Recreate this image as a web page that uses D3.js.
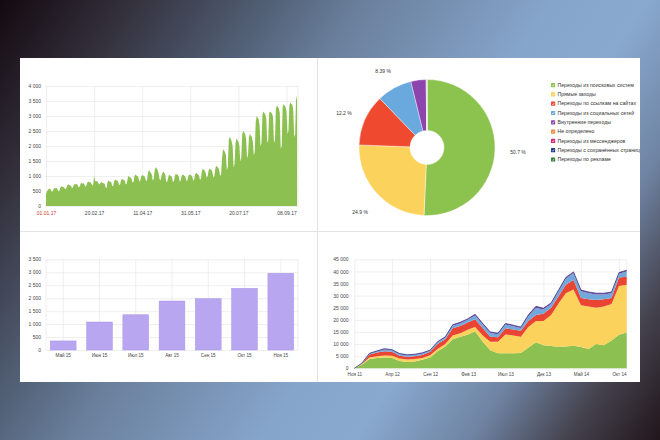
<!DOCTYPE html>
<html><head><meta charset="utf-8">
<script src="https://cdn.jsdelivr.net/npm/d3@7"></script>
<style>
html,body{margin:0;padding:0;background:#333;}
svg{display:block;font-family:"Liberation Sans",Arial,sans-serif;}
</style></head>
<body>
<svg id="c" width="660" height="440"></svg>
<script>
// ---------- DATA ----------
// Chart 1: daily visits from 01.01.17 (Sunday)
const dailyVisits = [400,
 480,540,560,580,550,470,500,
 570,600,590,600,560,480,520,
 620,650,640,630,610,560,580,
 680,720,700,690,660,600,620,
 700,740,720,730,690,620,650,
 740,770,750,760,720,640,680,
 780,820,790,800,760,680,720,
 1000,850,820,830,790,720,740,
 780,800,770,760,740,620,600,
 800,850,820,810,780,650,680,
 840,880,860,850,820,700,720,
 860,900,880,870,840,720,750,
 940,1000,960,950,900,780,800,
 1000,1050,1020,1000,960,820,850,
 990,1030,1010,1000,950,830,860,
 1100,1200,1150,1100,1050,850,900,
 1200,1300,1250,1200,1100,900,850,
 1000,1100,1150,1100,1050,800,820,
 950,1050,1020,1000,960,800,830,
 1000,1080,1050,1030,980,820,850,
 990,1050,1030,1010,970,830,860,
 1000,1050,1040,1020,980,850,870,
 1050,1100,1080,1060,1020,880,900,
 1150,1250,1200,1180,1100,950,980,
 1180,1250,1220,1200,1120,950,990,
 1250,1350,1300,1280,1200,1000,1050,
 1600,1900,1850,1800,1700,1200,1300,
 2200,2300,2250,2150,2000,1300,1400,
 2100,2250,2200,2150,2000,1500,1600,
 2400,2500,2450,2400,2250,1600,1700,
 2300,2400,2350,2300,2150,1700,1800,
 2800,3000,2950,2900,2700,2000,2100,
 3050,3150,3100,3050,2900,2100,2200,
 3100,3150,3120,3080,2950,2100,2200,
 3250,3350,3300,3250,3100,1900,2000,
 3300,3400,3350,3300,3150,2400,2500,
 3350,3450,3400,3380,3200,2300,2400,
 3700,3500];
const dailyTickLabels = ["01.01.17","20.02.17","11.04.17","31.05.17","20.07.17","08.09.17"];
const dailyYTicks = [0,500,1000,1500,2000,2500,3000,3500,4000];

// Chart 2: traffic sources (pie)
const sourceNames = ["Переходы из поисковых систем","Прямые заходы","Переходы по ссылкам на сайтах","Переходы из социальных сетей","Внутренние переходы","Не определено","Переходы из мессенджеров","Переходы с сохранённых страниц","Переходы по рекламе"];
const sourceShares = [50.7, 24.9, 12.2, 8.39, 3.6, 0.1, 0.05, 0.03, 0.03];
const sourceLabels = ["50.7 %","24.9 %","12.2 %","8.39 %","","","","",""];
const sourceColors = ["#8cc34f","#fbd25c","#ef4a2f","#6aa9de","#8e44ad","#e8883a","#d9247a","#1f3a8a","#2f7d32"];

// Chart 3: monthly bars
const barMonths = ["Май 15","Июн 15","Июл 15","Авг 15","Сен 15","Окт 15","Ноя 15"];
const barValues = [350, 1080, 1360, 1890, 1980, 2380, 2960];
const barYTicks = [0,500,1000,1500,2000,2500,3000,3500];

// Chart 4: stacked monthly sources from Nov 2011
const stackSearch   = [0,1500,3800,4300,4500,4300,3000,2600,2800,3500,4500,7000,9000,12000,13000,14000,15300,11000,7500,6200,6200,6200,6300,8500,10800,9500,9200,8800,9000,9300,8800,8000,10000,9500,11500,13800,14800];
const stackDirect   = [0,200,700,700,800,900,1000,1000,1000,800,900,1000,1000,1500,1500,2000,1700,2500,3500,4800,7800,7300,6700,8500,8700,10000,12800,18200,22000,23200,17200,17500,15000,16000,15000,20200,19700];
const stackLinks    = [0,200,1200,1500,1700,1600,1200,1200,1200,1200,1400,2000,2000,3000,3000,3000,3300,3000,2000,1800,2500,2500,2500,2500,2500,3000,3000,3000,3500,4000,3000,3000,3200,3000,2500,3500,3300];
const stackSocial   = [0,150,350,500,800,650,650,600,600,650,500,750,750,1100,1100,1100,1500,1500,1600,1300,1600,1400,1100,2000,2900,1800,1500,2000,2500,2800,2800,2500,2300,2000,2000,1500,2200];
const stackInternal = [0,50,150,200,300,250,250,200,200,250,200,250,250,400,400,400,500,500,400,400,400,400,400,500,700,500,500,500,500,500,500,500,500,500,500,500,500];
const stackTickLabels = ["Ноя 11","Апр 12","Сен 12","Фев 13","Июл 13","Дек 13","Май 14","Окт 14"];
const stackYTicks = [0,5000,10000,15000,20000,25000,30000,35000,40000,45000];

// ---------- DRAW ----------
const svg = d3.select("#c");
const defs = svg.append("defs");
const bg = defs.append("linearGradient").attr("id","bg")
  .attr("gradientUnits","userSpaceOnUse").attr("x1",0).attr("y1",0).attr("x2",660).attr("y2",440);
[[0,"#140910"],[0.14,"#34313d"],[0.3,"#55657c"],[0.38,"#6a7f9c"],[0.58,"#86a5cb"],[0.68,"#89a9cf"],[0.8,"#6f84a3"],[0.9,"#45434f"],[1,"#21151a"]]
  .forEach(s=>bg.append("stop").attr("offset",s[0]).attr("stop-color",s[1]));
svg.append("rect").attr("width",660).attr("height",440).attr("fill","url(#bg)");

svg.append("rect").attr("x",20).attr("y",58).attr("width",620).attr("height",324).attr("fill","#ffffff");
svg.append("line").attr("x1",317.5).attr("x2",317.5).attr("y1",58).attr("y2",382).attr("stroke","#e3e3e3");
svg.append("line").attr("x1",20).attr("x2",640).attr("y1",231.5).attr("y2",231.5).attr("stroke","#e3e3e3");

const fmt = v => d3.format(",")(v).replace(/,/g," ");
const grid = "#e8e8e8", tickCol = "#444", fs = 5;

function yAxisGrid(g, y, ticks, x0, x1, labelX){
  const ax = g.append("g").attr("transform",`translate(${x0},0)`)
    .call(d3.axisLeft(y).tickValues(ticks).tickSize(-(x1-x0)).tickPadding(x0-labelX).tickFormat(fmt));
  ax.select(".domain").remove();
  ax.selectAll("line").attr("stroke",grid).attr("stroke-width",0.7);
  ax.selectAll("text").attr("font-size",fs).attr("fill",tickCol).attr("font-family","Liberation Sans, Arial, sans-serif");
}

// Chart 1
{
  const start = new Date(2017,0,1);
  const x = d3.scaleTime().domain([start, new Date(2017,8,8)]).range([46,286.5]);
  const y = d3.scaleLinear().domain([0,4000]).range([206,86]);
  const g = svg.append("g");
  const tickDates = dailyTickLabels.map(s=>{const p=s.split(".");return new Date(2000+ +p[2], +p[1]-1, +p[0]);});
  yAxisGrid(g, y, dailyYTicks, 45.5, 298, 41);
  const xa = g.append("g").attr("transform","translate(0,206)")
    .call(d3.axisBottom(x).tickValues(tickDates).tickSize(-120).tickPadding(5).tickFormat((d,i)=>dailyTickLabels[i]));
  xa.select(".domain").remove();
  xa.selectAll("line").attr("stroke",grid).attr("stroke-width",0.7);
  xa.selectAll("text").attr("font-size",fs).attr("fill",(d,i)=>i===0?"#d0342c":tickCol).attr("font-family","Liberation Sans, Arial, sans-serif");
  g.append("line").attr("x1",298).attr("x2",298).attr("y1",86).attr("y2",206).attr("stroke",grid).attr("stroke-width",0.7);
  const area = d3.area().x((d,i)=>x(d3.timeDay.offset(start,i))).y0(y(0)).y1(d=>y(d));
  g.append("path").datum(dailyVisits).attr("d",area).attr("fill","#8cc152");
}

// Chart 2: pie
{
  const cx = 427, cy = 147.5;
  const g = svg.append("g").attr("transform",`translate(${cx},${cy})`);
  const pie = d3.pie().sort(null).value(d=>d);
  const arcs = pie(sourceShares);
  const arc = d3.arc().innerRadius(17).outerRadius(68);
  g.selectAll("path.s").data(arcs).join("path").attr("class","s")
    .attr("d",arc).attr("fill",(d,i)=>sourceColors[i]).attr("stroke","#ffffff").attr("stroke-width",0.4);
  const la = d3.arc().innerRadius(91).outerRadius(91);
  g.selectAll("text.l").data(arcs).join("text").attr("class","l")
    .attr("transform",d=>{const c=la.centroid(d);return `translate(${c[0]},${c[1]+3})`;})
    .attr("text-anchor","middle").attr("dy","0.35em")
    .attr("font-size",fs).attr("fill","#333").text((d,i)=>sourceLabels[i]);
  const lg = svg.append("g").attr("transform","translate(551,83)");
  const item = lg.selectAll("g").data(sourceNames).join("g").attr("transform",(d,i)=>`translate(0,${i*9.3})`);
  item.append("rect").attr("x",0).attr("y",0).attr("width",4.2).attr("height",4.2).attr("rx",0.6)
    .attr("fill",(d,i)=>sourceColors[i]);
  item.append("path").attr("d","M1,2.2 L1.9,3.1 L3.3,1.2").attr("fill","none").attr("stroke","#fff").attr("stroke-width",0.6);
  item.append("text").attr("x",6.5).attr("y",3.8).attr("font-size",5.2).attr("fill","#333").text(d=>d);
}

// Chart 3: bars
{
  const x = d3.scaleBand().domain(barMonths).range([46,298]).paddingInner(0.29).paddingOuter(0.12);
  const y = d3.scaleLinear().domain([0,3500]).range([350,259.3]);
  const g = svg.append("g");
  yAxisGrid(g, y, barYTicks, 46, 298, 41);
  const xa = g.append("g").attr("transform","translate(0,350)")
    .call(d3.axisBottom(x).tickSize(-90.7).tickPadding(4));
  xa.select(".domain").remove();
  xa.selectAll("line").attr("stroke",grid).attr("stroke-width",0.7);
  xa.selectAll("text").attr("font-size",fs-0.4).attr("fill",tickCol).attr("font-family","Liberation Sans, Arial, sans-serif");
  g.append("line").attr("x1",46).attr("x2",46).attr("y1",259.3).attr("y2",350).attr("stroke",grid).attr("stroke-width",0.7);
  g.append("line").attr("x1",298).attr("x2",298).attr("y1",259.3).attr("y2",350).attr("stroke",grid).attr("stroke-width",0.7);
  g.selectAll("rect.b").data(barValues).join("rect").attr("class","b")
    .attr("x",(d,i)=>x(barMonths[i])).attr("width",x.bandwidth())
    .attr("y",d=>y(d)).attr("height",d=>y(0)-y(d))
    .attr("fill","#b9a6f1").attr("stroke","#a892e6").attr("stroke-width",0.5);
}

// Chart 4: stacked area
{
  const start = new Date(2011,10,1);
  const months = stackSearch.map((d,i)=>d3.timeMonth.offset(start,i));
  const x = d3.scaleTime().domain([start, months[months.length-1]]).range([354.3,626.7]);
  const y = d3.scaleLinear().domain([0,45000]).range([368.3,259.3]);
  const g = svg.append("g");
  yAxisGrid(g, y, stackYTicks, 354.3, 626.7, 348.5);
  const tickDates = stackTickLabels.map((s,i)=>d3.timeMonth.offset(start,i*5));
  const xa = g.append("g").attr("transform","translate(0,368.3)")
    .call(d3.axisBottom(x).tickValues(tickDates).tickSize(-109).tickPadding(4).tickFormat((d,i)=>stackTickLabels[i]));
  xa.select(".domain").remove();
  xa.selectAll("line").attr("stroke",grid).attr("stroke-width",0.7);
  xa.selectAll("text").attr("font-size",fs-0.4).attr("fill",tickCol).attr("font-family","Liberation Sans, Arial, sans-serif");
  g.append("line").attr("x1",626.7).attr("x2",626.7).attr("y1",259.3).attr("y2",368.3).attr("stroke",grid).attr("stroke-width",0.7);
  const keys = ["search","direct","links","social","internal"];
  const rows = months.map((m,i)=>({date:m,search:stackSearch[i],direct:stackDirect[i],links:stackLinks[i],social:stackSocial[i],internal:stackInternal[i]}));
  const series = d3.stack().keys(keys)(rows);
  const cols = ["#8cc152","#fbd25c","#ea4533","#72a9dc","#7e4ba6"];
  const area = d3.area().x(d=>x(d.data.date)).y0(d=>y(d[0])).y1(d=>y(d[1]));
  g.selectAll("path.a").data(series).join("path").attr("class","a").attr("d",area).attr("fill",(d,i)=>cols[i]);
  const top = d3.line().x(d=>x(d.data.date)).y(d=>y(d[1]));
  g.append("path").datum(series[4]).attr("d",top).attr("fill","none").attr("stroke","#2a2f7a").attr("stroke-width",0.7);
}
</script>
</body></html>
